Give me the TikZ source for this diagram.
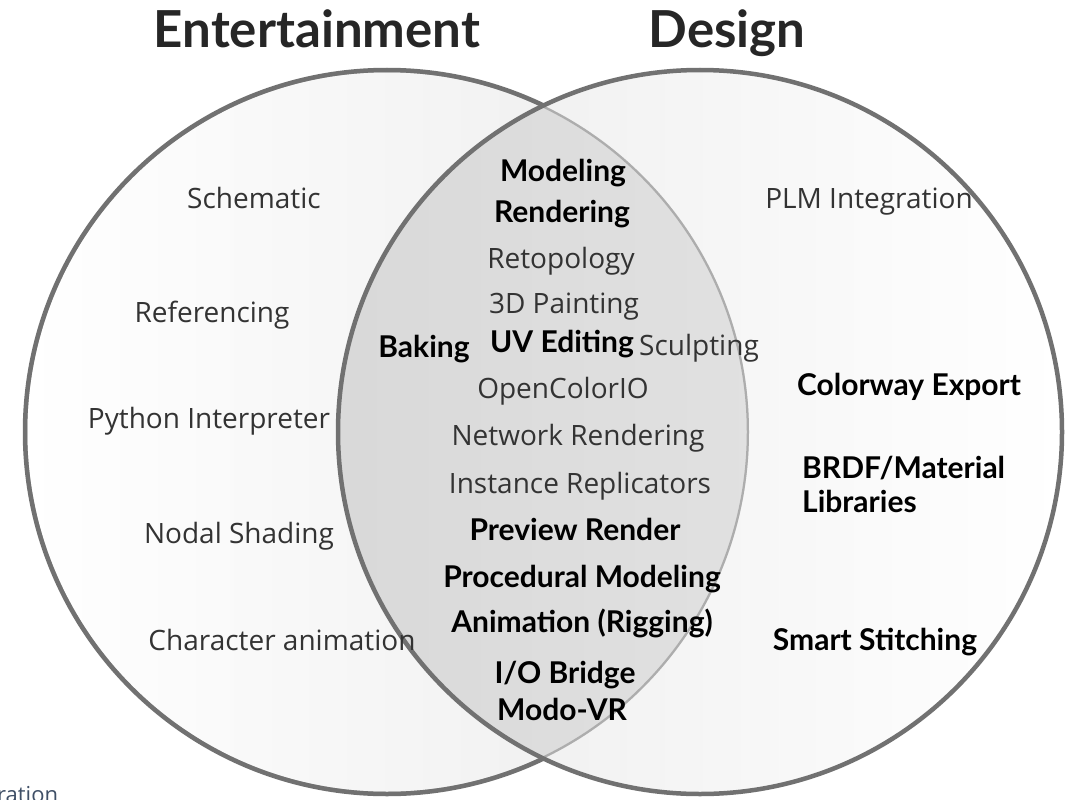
\documentclass[tikz,border=0pt]{standalone}
\usepackage{fontspec}
\setmainfont{Open Sans}
\newfontfamily\demi{Lato}
\definecolor{rim}{HTML}{717171}
\definecolor{rimlight}{HTML}{ADADAD}
\definecolor{thin}{HTML}{333333}
\definecolor{fragblue}{HTML}{3F4F66}
\begin{document}
\begin{tikzpicture}[x=1pt,y=-1pt]
\tikzstyle{every node}=[inner sep=0pt,anchor=base,text=thin,font=\fontsize{28}{32}\selectfont]
\tikzstyle{strong}=[font=\demi\bfseries\fontsize{30}{34}\selectfont,text=black]
\tikzstyle{head}=[font=\demi\bfseries\fontsize{51}{56}\selectfont,text=black!85]
\useasboundingbox (0,0) rectangle (1076,800);
\fill[white] (0,0) rectangle (1076,800);
\coordinate (ce) at (387,432);
\coordinate (cd) at (700,432);
\shade[left color=white,right color=gray!15] (ce) circle (362);
\shade[left color=gray!15,right color=white] (cd) circle (362);
\begin{scope}
\clip (ce) circle (362);
\shade[left color=gray!30,right color=gray!19] (cd) circle (362);
\draw[rimlight,line width=4.5] (ce) circle (362);
\end{scope}
\begin{scope}
\clip (0,0) rectangle (1076,800) (cd) circle (362);
\draw[rim,line width=4.5] (ce) circle (362);
\end{scope}
\draw[rim,line width=4.5] (cd) circle (362);
\node[head](hE) at (317,48) {Entertainment};
\node[head](hD) at (727,48) {Design};
\node(e1) at (254,208) {Schematic};
\node(e2) at (212,322) {Referencing};
\node(e3) at (209,428) {Python Interpreter};
\node(e4) at (239,543) {Nodal Shading};
\node(e5) at (282,650) {Character animation};
\node[strong](m1) at (563,181) {Modeling};
\node[strong](m2) at (562,222) {Rendering};
\node(m3) at (561,268) {Retopology};
\node(m4) at (564,313) {3D Painting};
\node[strong](m5) at (424,357) {Baking};
\node[strong](m6) at (562,352) {UV Editing};
\node(m7) at (699,355) {Sculpting};
\node(m8) at (563,398) {OpenColorIO};
\node(m9) at (578,445) {Network Rendering};
\node(m10) at (580,493) {Instance Replicators};
\node[strong](m11) at (575,540) {Preview Render};
\node[strong](m12) at (582,587) {Procedural Modeling};
\node[strong](m13) at (582,632) {Animation (Rigging)};
\node[strong](m14) at (565,683) {I/O Bridge};
\node[strong](m15) at (562,720) {Modo-VR};
\node(d1) at (869,208) {PLM Integration};
\node[strong](d2) at (909,395) {Colorway Export};
\node[strong,anchor=base west](d3) at (802,478) {BRDF/Material};
\node[strong,anchor=base west](d4) at (802,512) {Libraries};
\node[strong](d5) at (875,650) {Smart Stitching};
\node[anchor=base west,text=fragblue,font=\fontsize{22}{24}\selectfont](cut) at (-3,802) {ration};
\end{tikzpicture}
\end{document}
